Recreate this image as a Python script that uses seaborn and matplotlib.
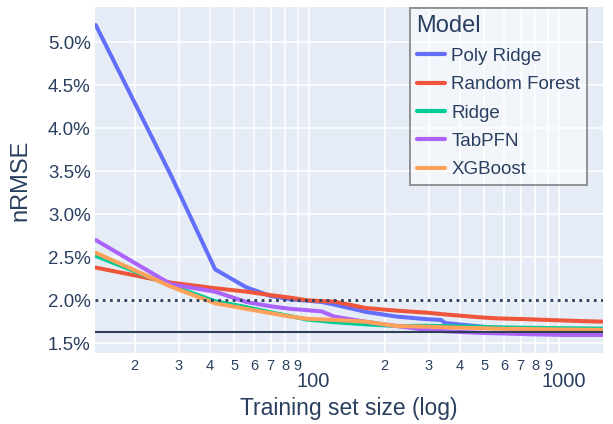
import matplotlib
matplotlib.use("Agg")
import matplotlib.pyplot as plt
import matplotlib.ticker as mticker
import matplotlib.transforms as mtransforms
import pandas as pd
import seaborn as sns

# training set sizes at which values were read
sizes = [14, 28, 42, 56, 70, 84, 98, 112, 126, 168, 224, 294, 336, 350, 490, 560, 756, 1036, 1260, 1490]

# nRMSE in percent
poly_ridge = [5.20, 3.45, 2.36, 2.15, 2.05, 2.01, 1.995, 1.98, 1.95, 1.865, 1.81, 1.78, 1.771, 1.735, 1.693, 1.68, 1.663, 1.65, 1.64, 1.635]
random_forest = [2.38, 2.205, 2.14, 2.10, 2.06, 2.03, 2.00, 1.99, 1.985, 1.91, 1.879, 1.856, 1.84, 1.835, 1.80, 1.79, 1.779, 1.765, 1.757, 1.751]
ridge = [2.515, 2.17, 1.99, 1.92, 1.86, 1.815, 1.775, 1.76, 1.745, 1.72, 1.70, 1.704, 1.70, 1.70, 1.69, 1.686, 1.68, 1.675, 1.672, 1.67]
tabpfn = [2.70, 2.186, 2.10, 1.98, 1.93, 1.90, 1.885, 1.87, 1.81, 1.75, 1.70, 1.655, 1.645, 1.64, 1.62, 1.616, 1.605, 1.597, 1.597, 1.597]
xgboost = [2.553, 2.158, 1.965, 1.90, 1.85, 1.81, 1.785, 1.778, 1.772, 1.751, 1.70, 1.693, 1.687, 1.685, 1.675, 1.67, 1.665, 1.66, 1.657, 1.655]

models = ["Poly Ridge", "Random Forest", "Ridge", "TabPFN", "XGBoost"]
colors = ["#636EFA", "#EF553B", "#00CC96", "#AB63FA", "#FFA15A"]

threshold = 2.0
baseline = 1.628

TEXT = "#2a3f5f"

df = pd.concat(
    [
        pd.DataFrame({"size": sizes, "nrmse": vals, "Model": name})
        for name, vals in zip(models, [poly_ridge, random_forest, ridge, tabpfn, xgboost])
    ],
    ignore_index=True,
)

sns.set_style("white")
plt.rcParams["font.family"] = ["Liberation Sans", "DejaVu Sans"]

fig = plt.figure(figsize=(6.13, 4.24), dpi=100)
ax = fig.add_axes([0.155, 0.1675, 0.8287, 0.8153])
ax.set_facecolor("#E5ECF6")

sns.lineplot(
    ax=ax,
    data=df,
    x="size",
    y="nrmse",
    hue="Model",
    palette=dict(zip(models, colors)),
    linewidth=2.9,
    estimator=None,
)

ax.axhline(threshold, color=TEXT, linestyle=(0, (1, 1.6)), linewidth=2.0, zorder=5)
ax.axhline(baseline, color="#2f3e56", linewidth=1.5, zorder=5)

ax.set_xscale("log")
ax.set_xlim(13.9, 1494)
ax.set_ylim(1.387, 5.407)

ax.xaxis.set_major_locator(mticker.FixedLocator([100, 1000]))
ax.xaxis.set_major_formatter(mticker.FixedFormatter(["100", "1000"]))
minor = [m * d for d in (10, 100) for m in range(2, 10)]
ax.xaxis.set_minor_locator(mticker.FixedLocator(minor))
ax.xaxis.set_minor_formatter(mticker.FixedFormatter([str(m) for d in (10, 100) for m in range(2, 10)]))

ax.yaxis.set_major_locator(mticker.FixedLocator([1.5, 2.0, 2.5, 3.0, 3.5, 4.0, 4.5, 5.0]))
ax.yaxis.set_major_formatter(mticker.FuncFormatter(lambda v, _: f"{v:.1f}%"))

ax.grid(True, which="both", color="white", linewidth=1.1)
ax.set_axisbelow(True)
for s in ax.spines.values():
    s.set_visible(False)

ax.tick_params(axis="x", which="major", length=0, pad=14, labelsize=14.5, labelcolor=TEXT)
ax.tick_params(axis="x", which="minor", length=0, pad=4, labelsize=10.5, labelcolor=TEXT)
ax.tick_params(axis="y", length=0, pad=3, labelsize=13.5, labelcolor=TEXT)

# decade labels sit a little right of their gridline
shift = mtransforms.ScaledTranslation(4 / 100, 0, fig.dpi_scale_trans)
for lbl in ax.xaxis.get_majorticklabels():
    lbl.set_transform(lbl.get_transform() + shift)

ax.set_xlabel("Training set size (log)", fontsize=16.5, color=TEXT, labelpad=4)
ax.set_ylabel("nRMSE", fontsize=17, color=TEXT, labelpad=12)

leg = ax.legend(
    title="Model",
    loc="upper left",
    bbox_to_anchor=(0.62, 0.998),
    fontsize=13.5,
    title_fontsize=17,
    frameon=True,
    fancybox=False,
    framealpha=0.5,
    facecolor="white",
    edgecolor="#333333",
    handlelength=1.5,
    handletextpad=0.35,
    labelspacing=0.6,
    borderpad=0.35,
    borderaxespad=0,
)
leg.get_frame().set_linewidth(1.4)
leg._legend_box.align = "left"
for t in leg.get_texts():
    t.set_color(TEXT)
leg.get_title().set_color(TEXT)
for h in leg.get_lines():
    h.set_linewidth(3)

fig.savefig("out.png", dpi=100)
